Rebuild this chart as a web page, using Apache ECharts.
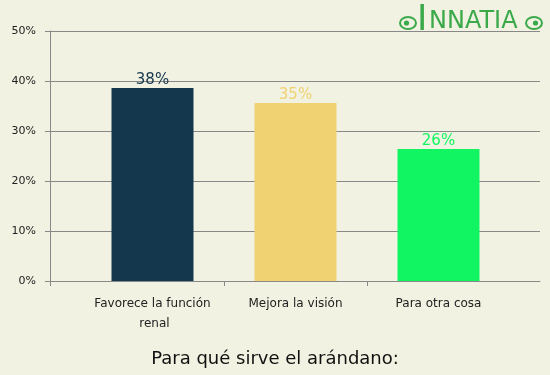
<!DOCTYPE html>
<html>
<head>
<meta charset="utf-8">
<script src="https://cdn.jsdelivr.net/npm/echarts@6/dist/echarts.min.js"></script>
<style>
html,body{margin:0;padding:0;background:#f2f2e2;}
#main{width:550px;height:375px;}
</style>
</head>
<body>
<div id="main"></div>
<script>
const categories = ['Favorece la función renal', 'Mejora la visión', 'Para otra cosa'];
const values = [38.6, 35.6, 26.4];
const barColors = ['#15374d', '#f0d272', '#12f562'];
const yTicks = [0, 10, 20, 30, 40, 50];
const chartTitle = 'Para qué sirve el arándano:';

const FONT = 'DejaVu Sans';
const chart = echarts.init(document.getElementById('main'), null, {renderer: 'canvas'});

const green = '#3aa94a';
function eye(cx, cy, flip) {
  return {
    type: 'group',
    children: [
      {type: 'ellipse', shape: {cx: cx, cy: cy, rx: 8, ry: 6}, style: {fill: 'none', stroke: green, lineWidth: 2}},
      {type: 'circle', shape: {cx: cx + (flip ? 1.5 : -1.5), cy: cy, r: 2.6}, style: {fill: green}}
    ]
  };
}

// a trailing empty slot pushes the axis end (and its closing tick) off the canvas
const axisCategories = categories.concat(['']);

chart.setOption({
  backgroundColor: '#f2f2e2',
  animation: false,
  title: {
    text: chartTitle,
    left: 'center',
    top: 345,
    textStyle: {fontFamily: FONT, fontSize: 18, fontWeight: 'normal', color: '#111'}
  },
  grid: [
    {left: 50, right: 10, top: 31, bottom: 94, outerBoundsMode: 'none', containLabel: false},
    {left: 81, width: 572, top: 31, bottom: 94, outerBoundsMode: 'none', containLabel: false}
  ],
  xAxis: [
    {
      type: 'value', gridIndex: 0, min: 0, max: 1,
      axisLine: {show: true, lineStyle: {color: '#888', width: 1}},
      axisTick: {show: true, length: 5, customValues: [0], lineStyle: {color: '#888'}},
      axisLabel: {show: false},
      splitLine: {show: false}
    },
    {
      type: 'category', gridIndex: 1, data: axisCategories,
      axisLine: {show: false},
      axisTick: {show: true, length: 5, interval: function (i) { return i === 1 || i === 2; }, lineStyle: {color: '#888'}},
      axisLabel: {
        interval: 0,
        fontFamily: FONT, fontSize: 12, color: '#222', margin: 13,
        width: 125, overflow: 'break', lineHeight: 20
      }
    }
  ],
  yAxis: [
    {
      type: 'value', gridIndex: 0, min: yTicks[0], max: yTicks[yTicks.length - 1], interval: 10,
      axisLine: {show: true, lineStyle: {color: '#888', width: 1}},
      axisTick: {show: true, length: 5, lineStyle: {color: '#888'}},
      axisLabel: {formatter: '{value}%', fontFamily: FONT, fontSize: 11, color: '#222', margin: 14},
      splitLine: {show: true, lineStyle: {color: '#888', width: 1}}
    },
    {
      type: 'value', gridIndex: 1, min: yTicks[0], max: yTicks[yTicks.length - 1], show: false,
      splitLine: {show: false}
    }
  ],
  series: [{
    type: 'bar',
    xAxisIndex: 1,
    yAxisIndex: 1,
    barWidth: 82,
    data: values.map((v, i) => ({value: v, itemStyle: {color: barColors[i]}, label: {color: barColors[i]}})),
    label: {
      show: true, position: 'top', distance: 0,
      fontFamily: FONT, fontSize: 15,
      formatter: p => Math.floor(p.value) + '%'
    }
  }],
  graphic: [
    eye(408, 23, false),
    eye(534, 23, true),
    {type: 'text', left: 417, top: 3, style: {text: 'I', fontFamily: FONT, fontSize: 35, fill: green}},
    {type: 'text', left: 429, top: 10, style: {text: 'NNATIA', fontFamily: FONT, fontSize: 24, fill: green}}
  ]
});
</script>
</body>
</html>
